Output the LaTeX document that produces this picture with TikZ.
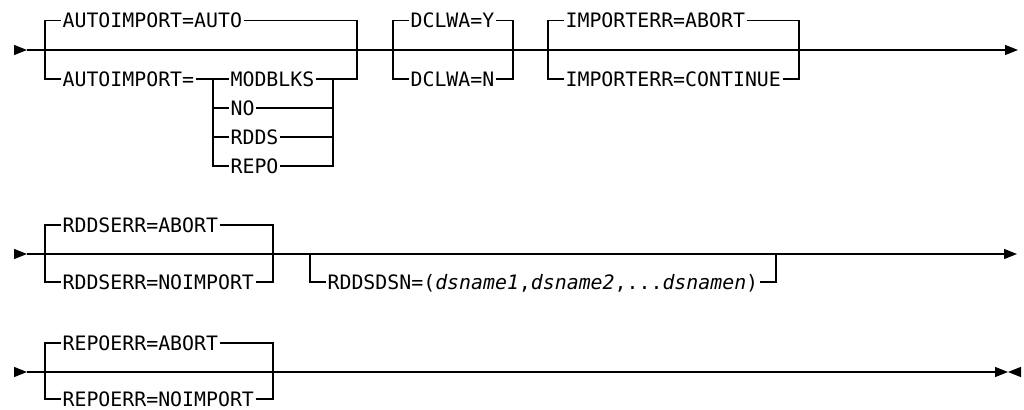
\documentclass[tikz,border=0pt]{standalone}
\usepackage{fontspec}
\newfontfamily\railfont{DejaVu Sans Mono}
\usetikzlibrary{arrows.meta}
\tikzset{
  rail/.style={line width=1pt, line cap=butt},
  railtip/.style={-{Triangle[length=9.75pt,width=7.5pt]}},
  kw/.style={font=\railfont\fontsize{14.9pt}{16pt}\selectfont, anchor=west,
    inner xsep=1pt, inner ysep=0pt, text height=10.9pt, text depth=0pt}
}
\begin{document}
\begin{tikzpicture}[x=0.75pt,y=-0.75pt]
\useasboundingbox (0,0) rectangle (1024,410);
% Row 1: AUTOIMPORT, DCLWA, IMPORTERR
\draw[rail,railtip] (14,50) -- (27,50);
\draw[rail,railtip] (27,50) -- (1018,50);
\coordinate (aiL) at (45,50);
\coordinate (aiR) at (357,50);
\coordinate (subL) at (213,79);
\coordinate (subR) at (333,79);
\node[kw] (aiauto) at (61,20.7) {AUTOIMPORT=AUTO};
\node[kw] (aieq) at (61,79) {AUTOIMPORT=};
\node[kw] (modblks) at (229,79) {MODBLKS};
\node[kw] (no) at (229,108) {NO};
\node[kw] (rdds) at (229,137) {RDDS};
\node[kw] (repo) at (229,166) {REPO};
\draw[rail] (aiL) |- (aiauto.west) (aiauto.east) -| (aiR);
\draw[rail] (aiL) |- (aieq.west) (aieq.east) -- (modblks.west);
\draw[rail] (modblks.east) -| (aiR);
\foreach \opt in {no,rdds,repo}
  \draw[rail] (subL) |- (\opt.west) (\opt.east) -| (subR);
% DCLWA
\coordinate (dcL) at (393,50);
\coordinate (dcR) at (513,50);
\node[kw] (dcy) at (409,20.7) {DCLWA=Y};
\node[kw] (dcn) at (409,79) {DCLWA=N};
\foreach \opt in {dcy,dcn}
  \draw[rail] (dcL) |- (\opt.west) (\opt.east) -| (dcR);
% IMPORTERR
\coordinate (ieL) at (548,50);
\coordinate (ieR) at (799,50);
\node[kw] (ieabort) at (564,20.7) {IMPORTERR=ABORT};
\node[kw] (iecont) at (564,79) {IMPORTERR=CONTINUE};
\foreach \opt in {ieabort,iecont}
  \draw[rail] (ieL) |- (\opt.west) (\opt.east) -| (ieR);
% Row 2: RDDSERR, RDDSDSN
\draw[rail,railtip] (14,254) -- (27,254);
\draw[rail,railtip] (27,254) -- (1017,254);
\coordinate (reL) at (45,254);
\coordinate (reR) at (273,254);
\node[kw] (reabort) at (61,225) {RDDSERR=ABORT};
\node[kw] (renoimp) at (61,282) {RDDSERR=NOIMPORT};
\foreach \opt in {reabort,renoimp}
  \draw[rail] (reL) |- (\opt.west) (\opt.east) -| (reR);
\coordinate (dsL) at (310,254);
\coordinate (dsR) at (776,254);
\node[kw] (dsn) at (326,282)
  {RDDSDSN=(\textit{dsname1},\textit{dsname2},...\textit{dsnamen})};
\draw[rail] (dsL) |- (dsn.west) (dsn.east) -| (dsR);
% Row 3: REPOERR, end of statement
\draw[rail,railtip] (14,372) -- (27,372);
\draw[rail,railtip] (27,372) -- (1008,372);
\draw[rail,railtip] (1020,372) -- (1008,372);
\coordinate (rpL) at (45,372);
\coordinate (rpR) at (273,372);
\node[kw] (rpabort) at (61,343) {REPOERR=ABORT};
\node[kw] (rpnoimp) at (61,399) {REPOERR=NOIMPORT};
\foreach \opt in {rpabort,rpnoimp}
  \draw[rail] (rpL) |- (\opt.west) (\opt.east) -| (rpR);
\end{tikzpicture}
\end{document}
